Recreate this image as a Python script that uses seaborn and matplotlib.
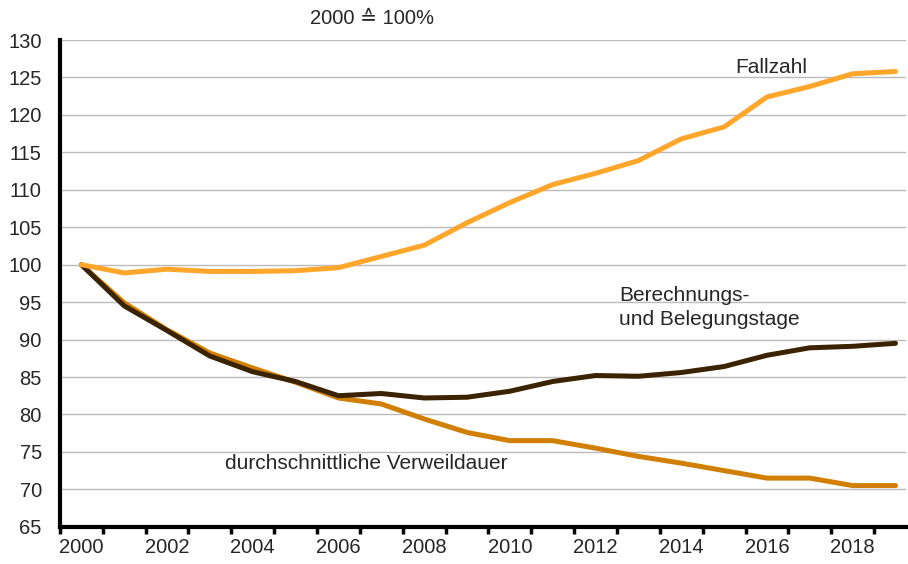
import pandas as pd
import seaborn as sns
import matplotlib.pyplot as plt

# Daten (Index, 2000 = 100)
jahre = list(range(2000, 2020))
fallzahl = [100.0, 98.9, 99.4, 99.1, 99.1, 99.2, 99.6, 101.1, 102.6, 105.6,
            108.3, 110.7, 112.2, 113.9, 116.8, 118.4, 122.4, 123.8, 125.5, 125.8]
belegungstage = [100.0, 94.5, 91.2, 87.8, 85.7, 84.4, 82.5, 82.8, 82.2, 82.3,
                 83.1, 84.4, 85.2, 85.1, 85.6, 86.4, 87.9, 88.9, 89.1, 89.5]
verweildauer = [100.0, 94.9, 91.3, 88.2, 86.2, 84.3, 82.2, 81.4, 79.4, 77.6,
                76.5, 76.5, 75.5, 74.4, 73.5, 72.5, 71.5, 71.5, 70.5, 70.5]
y_ticks = list(range(65, 131, 5))
x_labels = list(range(2000, 2019, 2))

# in Zeichenreihenfolge (Fallzahl oben)
df = pd.concat([
    pd.DataFrame({'jahr': jahre, 'wert': verweildauer, 'reihe': 'verweildauer'}),
    pd.DataFrame({'jahr': jahre, 'wert': belegungstage, 'reihe': 'belegungstage'}),
    pd.DataFrame({'jahr': jahre, 'wert': fallzahl, 'reihe': 'fallzahl'}),
])
farben = {'verweildauer': '#D17F00', 'belegungstage': '#3B2300', 'fallzahl': '#FFA62B'}

sns.set_style('white')
plt.rcParams['font.family'] = ['Liberation Sans', 'DejaVu Sans']

fig = plt.figure(figsize=(9.08, 5.64), dpi=100)
ax = fig.add_axes([0.066, 0.066, 0.932, 0.863])

sns.lineplot(data=df, x='jahr', y='wert', hue='reihe', palette=farben,
             linewidth=3.6, legend=False, ax=ax)

ax.set_xlim(1999.5, 2019.25)
ax.set_ylim(65, 130)
ax.set_yticks(y_ticks)
ax.set_yticklabels([str(v) for v in y_ticks], fontsize=14.5)
ax.yaxis.grid(True, color='#BBBBBB', linewidth=1)
ax.set_axisbelow(True)

# Striche zwischen den Kategorien, Beschriftung in der Mitte
ax.set_xticks([j - 0.5 for j in jahre])
ax.set_xticklabels([])
ax.set_xticks(x_labels, minor=True)
ax.set_xticklabels([str(j) for j in x_labels], minor=True, fontsize=14.5)
ax.tick_params(axis='x', which='major', direction='out', length=5, width=2.5,
               color='black', bottom=True)
ax.tick_params(axis='x', which='minor', length=0, pad=8)
ax.tick_params(axis='y', length=0, pad=13)

for s in ['top', 'right']:
    ax.spines[s].set_visible(False)
for s in ['left', 'bottom']:
    ax.spines[s].set_color('black')
    ax.spines[s].set_linewidth(3)

ax.set_xlabel('')
ax.set_ylabel('')

ax.text(2016.1, 126.4, 'Fallzahl', fontsize=15, ha='center', va='center')
ax.text(2012.55, 94.3, 'Berechnungs-\nund Belegungstage', fontsize=15,
        ha='left', va='center', linespacing=1.35)
ax.text(2003.35, 73.5, 'durchschnittliche Verweildauer', fontsize=15,
        ha='left', va='center')
fig.text(372 / 908, 1 - 18 / 564, '2000 ≙ 100%', fontsize=14.5,
         ha='center', va='center')

plt.savefig('out.png', dpi=100)
